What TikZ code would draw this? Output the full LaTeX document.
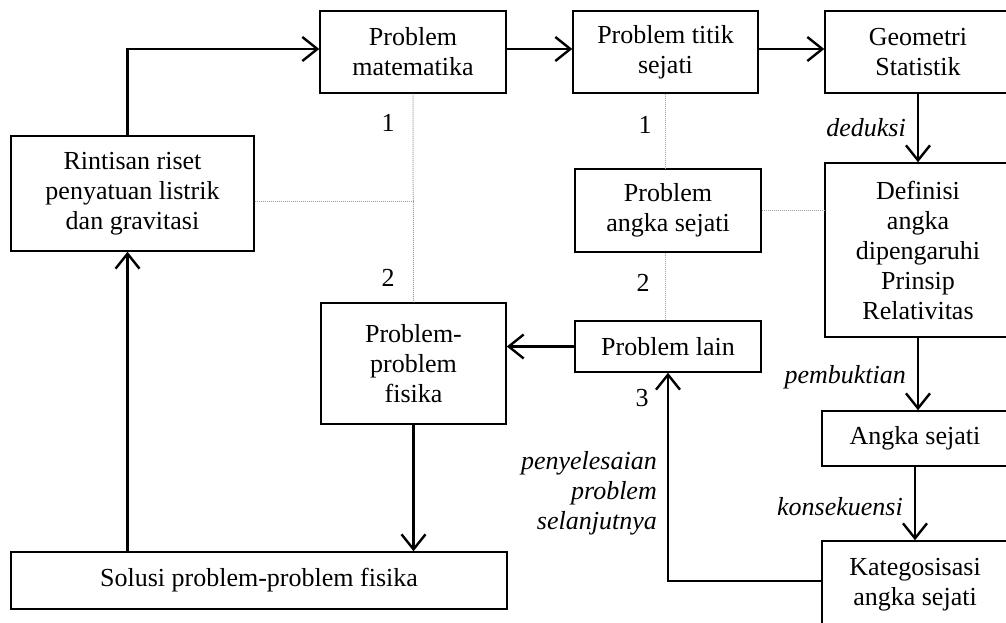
\documentclass[tikz,border=0pt]{standalone}
\usepackage{fontspec}
\setmainfont{Liberation Serif}
\usetikzlibrary{arrows.meta}
\tikzset{
 box/.style={draw, line width=1.5pt, align=center, font=\fontsize{26}{30}\selectfont, inner sep=2pt},
 arr/.style={line width=2.4pt, -{Straight Barb[length=15pt,width=24pt]}},
 dotl/.style={draw=gray!75, line width=1pt, densely dotted},
 lab/.style={font=\fontsize{26}{30}\selectfont\itshape, inner sep=1pt},
 num/.style={font=\fontsize{26}{30}\selectfont, inner sep=0pt},
}
\begin{document}
\begin{tikzpicture}[x=1pt,y=-1pt]
\path[use as bounding box, fill=white] (0,0) rectangle (1006,623);
% boxes
\node[box, minimum width=243pt, minimum height=115pt] (rint) at (132.5,193.5) {Rintisan riset\\penyatuan listrik\\dan gravitasi};
\node[box, minimum width=186pt, minimum height=82pt] (pmat) at (413,52) {Problem\\matematika};
\node[box, minimum width=185pt, minimum height=82pt] (ptitik) at (665.5,52) {Problem titik\\sejati};
\node[box, minimum width=186pt, minimum height=82pt] (geo) at (918,52) {Geometri\\Statistik};
\node[box, minimum width=186pt, minimum height=174pt] (def) at (918,250) {Definisi\\angka\\dipengaruhi\\Prinsip\\Relativitas};
\node[box, minimum width=186pt, minimum height=55pt] (angka) at (915,438.5) {Angka sejati};
\node[box, minimum width=186pt, minimum height=88pt] (kateg) at (915,585) {Kategosisasi\\angka sejati};
\node[box, minimum width=186pt, minimum height=83pt] (pangka) at (668,210.5) {Problem\\angka sejati};
\node[box, minimum width=186pt, minimum height=51pt] (plain) at (668,346.5) {Problem lain};
\node[box, minimum width=185pt, minimum height=121pt] (pfis) at (413.5,363.5) {Problem-\\problem\\fisika};
\node[box, minimum width=496pt, minimum height=57pt] (sol) at (259,580.5) {Solusi problem-problem fisika};
% helper coordinates
\coordinate (cl) at (127.5,0);
\coordinate (jy) at (0,201);
% arrows
\draw[arr] (cl |- rint.north) |- ([yshift=3pt]pmat.west);
\draw[arr] ([yshift=3pt]pmat.east) -- ([yshift=3pt]ptitik.west);
\draw[arr] ([yshift=3pt]ptitik.east) -- ([yshift=3pt]geo.west);
\draw[arr] (geo.south) -- node[lab, left=10pt]{deduksi} (def.north);
\draw[arr] (def.south) -- node[lab, left=10pt, yshift=-3pt]{pembuktian} (def.south |- angka.north);
\draw[arr] (angka.south) -- node[lab, left=10pt, yshift=-3pt]{konsekuensi} (kateg.north);
\draw[arr] ([yshift=4pt]kateg.west) -| node[lab, pos=0.71, left=9pt, align=right]{penyelesaian\\problem\\selanjutnya} (plain.south);
\draw[arr] (plain.west) -- (plain.west -| pfis.east);
\draw[arr] (pfis.south) -- (pfis.south |- sol.north);
\draw[arr] (cl |- sol.north) -- (cl |- rint.south);
% dotted links
\draw[dotl] (pmat.south) -- (pfis.north);
\draw[dotl] (rint.east |- jy) -- (pmat.south |- jy);
\draw[dotl] (ptitik.south) -- (ptitik.south |- pangka.north);
\draw[dotl] (ptitik.south |- pangka.south) -- (ptitik.south |- plain.north);
\draw[dotl] (pangka.east) -- (pangka.east -| def.west);
% numbers
\node[num] (n1a) at (388,123) {1};
\node[num] (n2a) at (388,278) {2};
\node[num] (n1b) at (645,125) {1};
\node[num] (n2b) at (643,283) {2};
\node[num] (n3) at (642,398) {3};
\end{tikzpicture}
\end{document}
